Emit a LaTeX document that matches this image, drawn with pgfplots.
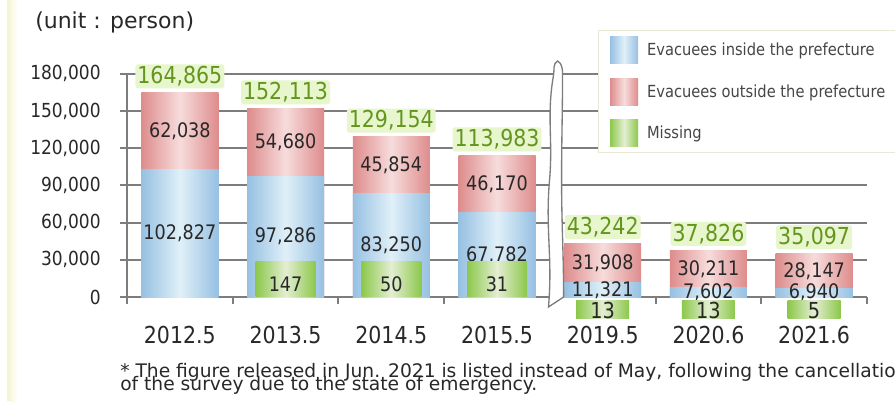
\documentclass[border=0pt]{standalone}
\usepackage{pgfplots}
\pgfplotsset{compat=1.18}
\usepackage{pgfplotstable}
\usepackage{fontspec}
\setmainfont{DejaVu Sans}
\newfontfamily\vfont[FakeStretch=0.88]{DejaVu Sans}

\definecolor{blueE}{RGB}{150,192,226}
\definecolor{blueM}{RGB}{224,240,248}
\definecolor{pinkE}{RGB}{222,140,140}
\definecolor{pinkM}{RGB}{247,220,220}
\definecolor{greenE}{RGB}{140,200,75}
\definecolor{greenM}{RGB}{228,238,210}
\definecolor{gridgray}{RGB}{125,125,125}
\definecolor{textdark}{RGB}{40,40,40}
\definecolor{totalgreen}{RGB}{100,150,30}
\definecolor{glow}{RGB}{232,246,205}
\definecolor{cream}{RGB}{245,245,210}
\definecolor{legendline}{RGB}{232,232,212}
\definecolor{legendtext}{RGB}{70,70,70}

\tikzset{
  blueshade/.style={left color=blueE, right color=blueE, middle color=blueM},
  pinkshade/.style={left color=pinkE, right color=pinkE, middle color=pinkM},
  greenshade/.style={left color=greenE, right color=greenE, middle color=greenM},
}

% evacuees by survey (2012.5 ... 2021.6 at x = 0 ... 6)
\pgfplotstableread{
x inside outside total
0 102827 62038 164865
1 97286 54680 152113
2 83250 45854 129154
3 67782 46170 113983
4 11321 31908 43242
5 7602 30211 37826
6 6940 28147 35097
}\evac

% missing persons
\pgfplotstableread{
x missing
1 147
2 50
3 31
}\missup
\pgfplotstableread{
x missing
4 13
5 13
6 5
}\misslow

\begin{document}
\begin{tikzpicture}
\useasboundingbox (0,0) rectangle (671.25pt,300.75pt);
\clip (0,0) rectangle (671.25pt,300.75pt);
\fill[white] (0,0) rectangle (671.25pt,300.75pt);
\fill[cream] (5.25pt,0) rectangle (7.5pt,300.75pt);
\shade[left color=cream!70, right color=white] (7.5pt,0) rectangle (13.5pt,300.75pt);

\node[anchor=base west, inner sep=0pt, text=textdark,
  font=\fontsize{16.5}{18}\selectfont] at (26.25pt,279.75pt) {(unit : person)};

\begin{axis}[
    at={(95.25pt,78pt)}, anchor=south west,
    scale only axis, width=555pt, height=167.4pt,
    xmin=-0.5, xmax=6.5, ymin=0, ymax=180000,
    clip=false,
    axis lines*=left,
    axis line style={draw=gridgray, line width=1.5pt},
    tick align=outside, major tick length=5.25pt,
    tick style={draw=gridgray, line width=1.5pt},
    ytick={0,30000,...,180000},
    ymajorgrids,
    grid style={draw=gridgray, line width=1.5pt},
    scaled y ticks=false,
    /pgf/number format/fixed,
    /pgf/number format/precision=0,
    /pgf/number format/1000 sep={,},
    /pgf/number format/assume math mode=true,
    yticklabel style={font=\vfont\fontsize{14.5}{16}\selectfont, text=textdark, xshift=-11pt},
    xtick={-0.5,0.5,...,6.5}, xticklabels={},
    extra x ticks={0,1,2,3,4,5,6},
    extra x tick labels={2012.5,2013.5,2014.5,2015.5,2019.5,2020.6,2021.6},
    extra x tick style={major tick length=0pt},
    xticklabel style={font=\vfont\fontsize{17.5}{18}\selectfont, text=textdark, yshift=-18.5pt},
    legend image code/.code={\path[#1, draw=none] (0pt,-10.1pt) rectangle (21pt,10.1pt);},
    legend style={at={(rel axis cs:0.6365,1.1962)}, anchor=north west,
      draw=legendline, line width=1.1pt, fill=white,
      inner xsep=8.5pt, inner ysep=4.5pt, row sep=10.9pt, column sep=6.75pt,
      nodes={inner sep=0pt, font=\vfont\fontsize{12.5}{14}\selectfont, text=legendtext}},
    legend cell align=left,
]
\addlegendimage{blueshade}
\addlegendentry{Evacuees inside the prefecture}
\addlegendimage{pinkshade}
\addlegendentry{Evacuees outside the prefecture}
\addlegendimage{greenshade}
\addlegendentry{Missing}

% one plot per survey so that every bar gets its own shading;
% outside stacked on inside, total written above
\pgfplotsinvokeforeach{0,...,6}{
  \addplot[forget plot, ybar, bar width=57.75pt, bar shift=0pt, draw=none, pinkshade,
      x filter/.expression={x==#1 ? x : nan},
      nodes near coords, point meta=explicit,
      every node near coord/.append style={font=\vfont\fontsize{17.5}{18}\selectfont,
        text=totalgreen, fill=glow, rounded corners=2pt, inner sep=1.5pt, yshift=3pt}]
      table[x=x, y expr=\thisrow{inside}+\thisrow{outside}, meta=total] {\evac};
  \addplot[forget plot, ybar, bar width=57.75pt, bar shift=0pt, draw=none, blueshade,
      x filter/.expression={x==#1 ? x : nan}]
      table[x=x, y=inside] {\evac};
}

% segment labels
\addplot[forget plot, draw=none, mark=none, nodes near coords, point meta=explicit,
    every node near coord/.append style={anchor=center, inner sep=0pt,
      font=\vfont\fontsize{15}{16}\selectfont, text=textdark}]
    table[x=x, y expr=\thisrow{inside}/2, meta=inside] {\evac};
\addplot[forget plot, draw=none, mark=none, nodes near coords, point meta=explicit,
    every node near coord/.append style={anchor=center, inner sep=0pt,
      font=\vfont\fontsize{15}{16}\selectfont, text=textdark}]
    table[x=x, y expr=\thisrow{inside}+\thisrow{outside}/2, meta=outside] {\evac};

% missing persons, shown as fixed-size boxes
\addplot[forget plot, ybar, bar width=1pt, bar shift=10pt, draw=none, fill=none,
    nodes near coords, point meta=explicit,
    every node near coord/.append style={anchor=south, greenshade, inner sep=0pt,
      minimum width=45pt, text height=22.5pt, text depth=3.75pt,
      font=\vfont\fontsize{15}{16}\selectfont, text=textdark}]
    table[x=x, y=missing, meta=missing] {\missup};
\addplot[forget plot, ybar, bar width=1pt, bar shift=18.75pt, draw=none, fill=none,
    nodes near coords, point meta=explicit,
    every node near coord/.append style={anchor=north, yshift=-2.25pt, greenshade,
      inner sep=0pt, minimum width=39.75pt, text height=13.5pt, text depth=-2.25pt,
      font=\vfont\fontsize{16.5}{17}\selectfont, text=textdark}]
    table[x=x, y=missing, meta=missing] {\misslow};

% axis break
\draw[draw=gridgray, fill=white, line width=1pt]
  (axis cs:3.487,-8065) to[out=85,in=-95] (axis cs:3.497,94355)
  to[out=85,in=-100] (axis cs:3.535,179032)
  to[out=80,in=-150] (axis cs:3.573,190322)
  to[out=-30,in=95] (axis cs:3.62,181451)
  to[out=-90,in=90] (axis cs:3.611,94355)
  to[out=-90,in=90] (axis cs:3.63,0) -- cycle;
\end{axis}

\node[anchor=base west, inner sep=0pt, text=textdark, font=\fontsize{14}{15}\selectfont]
  at (90pt,18pt) {* The figure released in Jun. 2021 is listed instead of May, following the cancellation};
\node[anchor=base west, inner sep=0pt, text=textdark, font=\fontsize{14}{15}\selectfont]
  at (90pt,8.25pt) {of the survey due to the state of emergency.};
\end{tikzpicture}
\end{document}
